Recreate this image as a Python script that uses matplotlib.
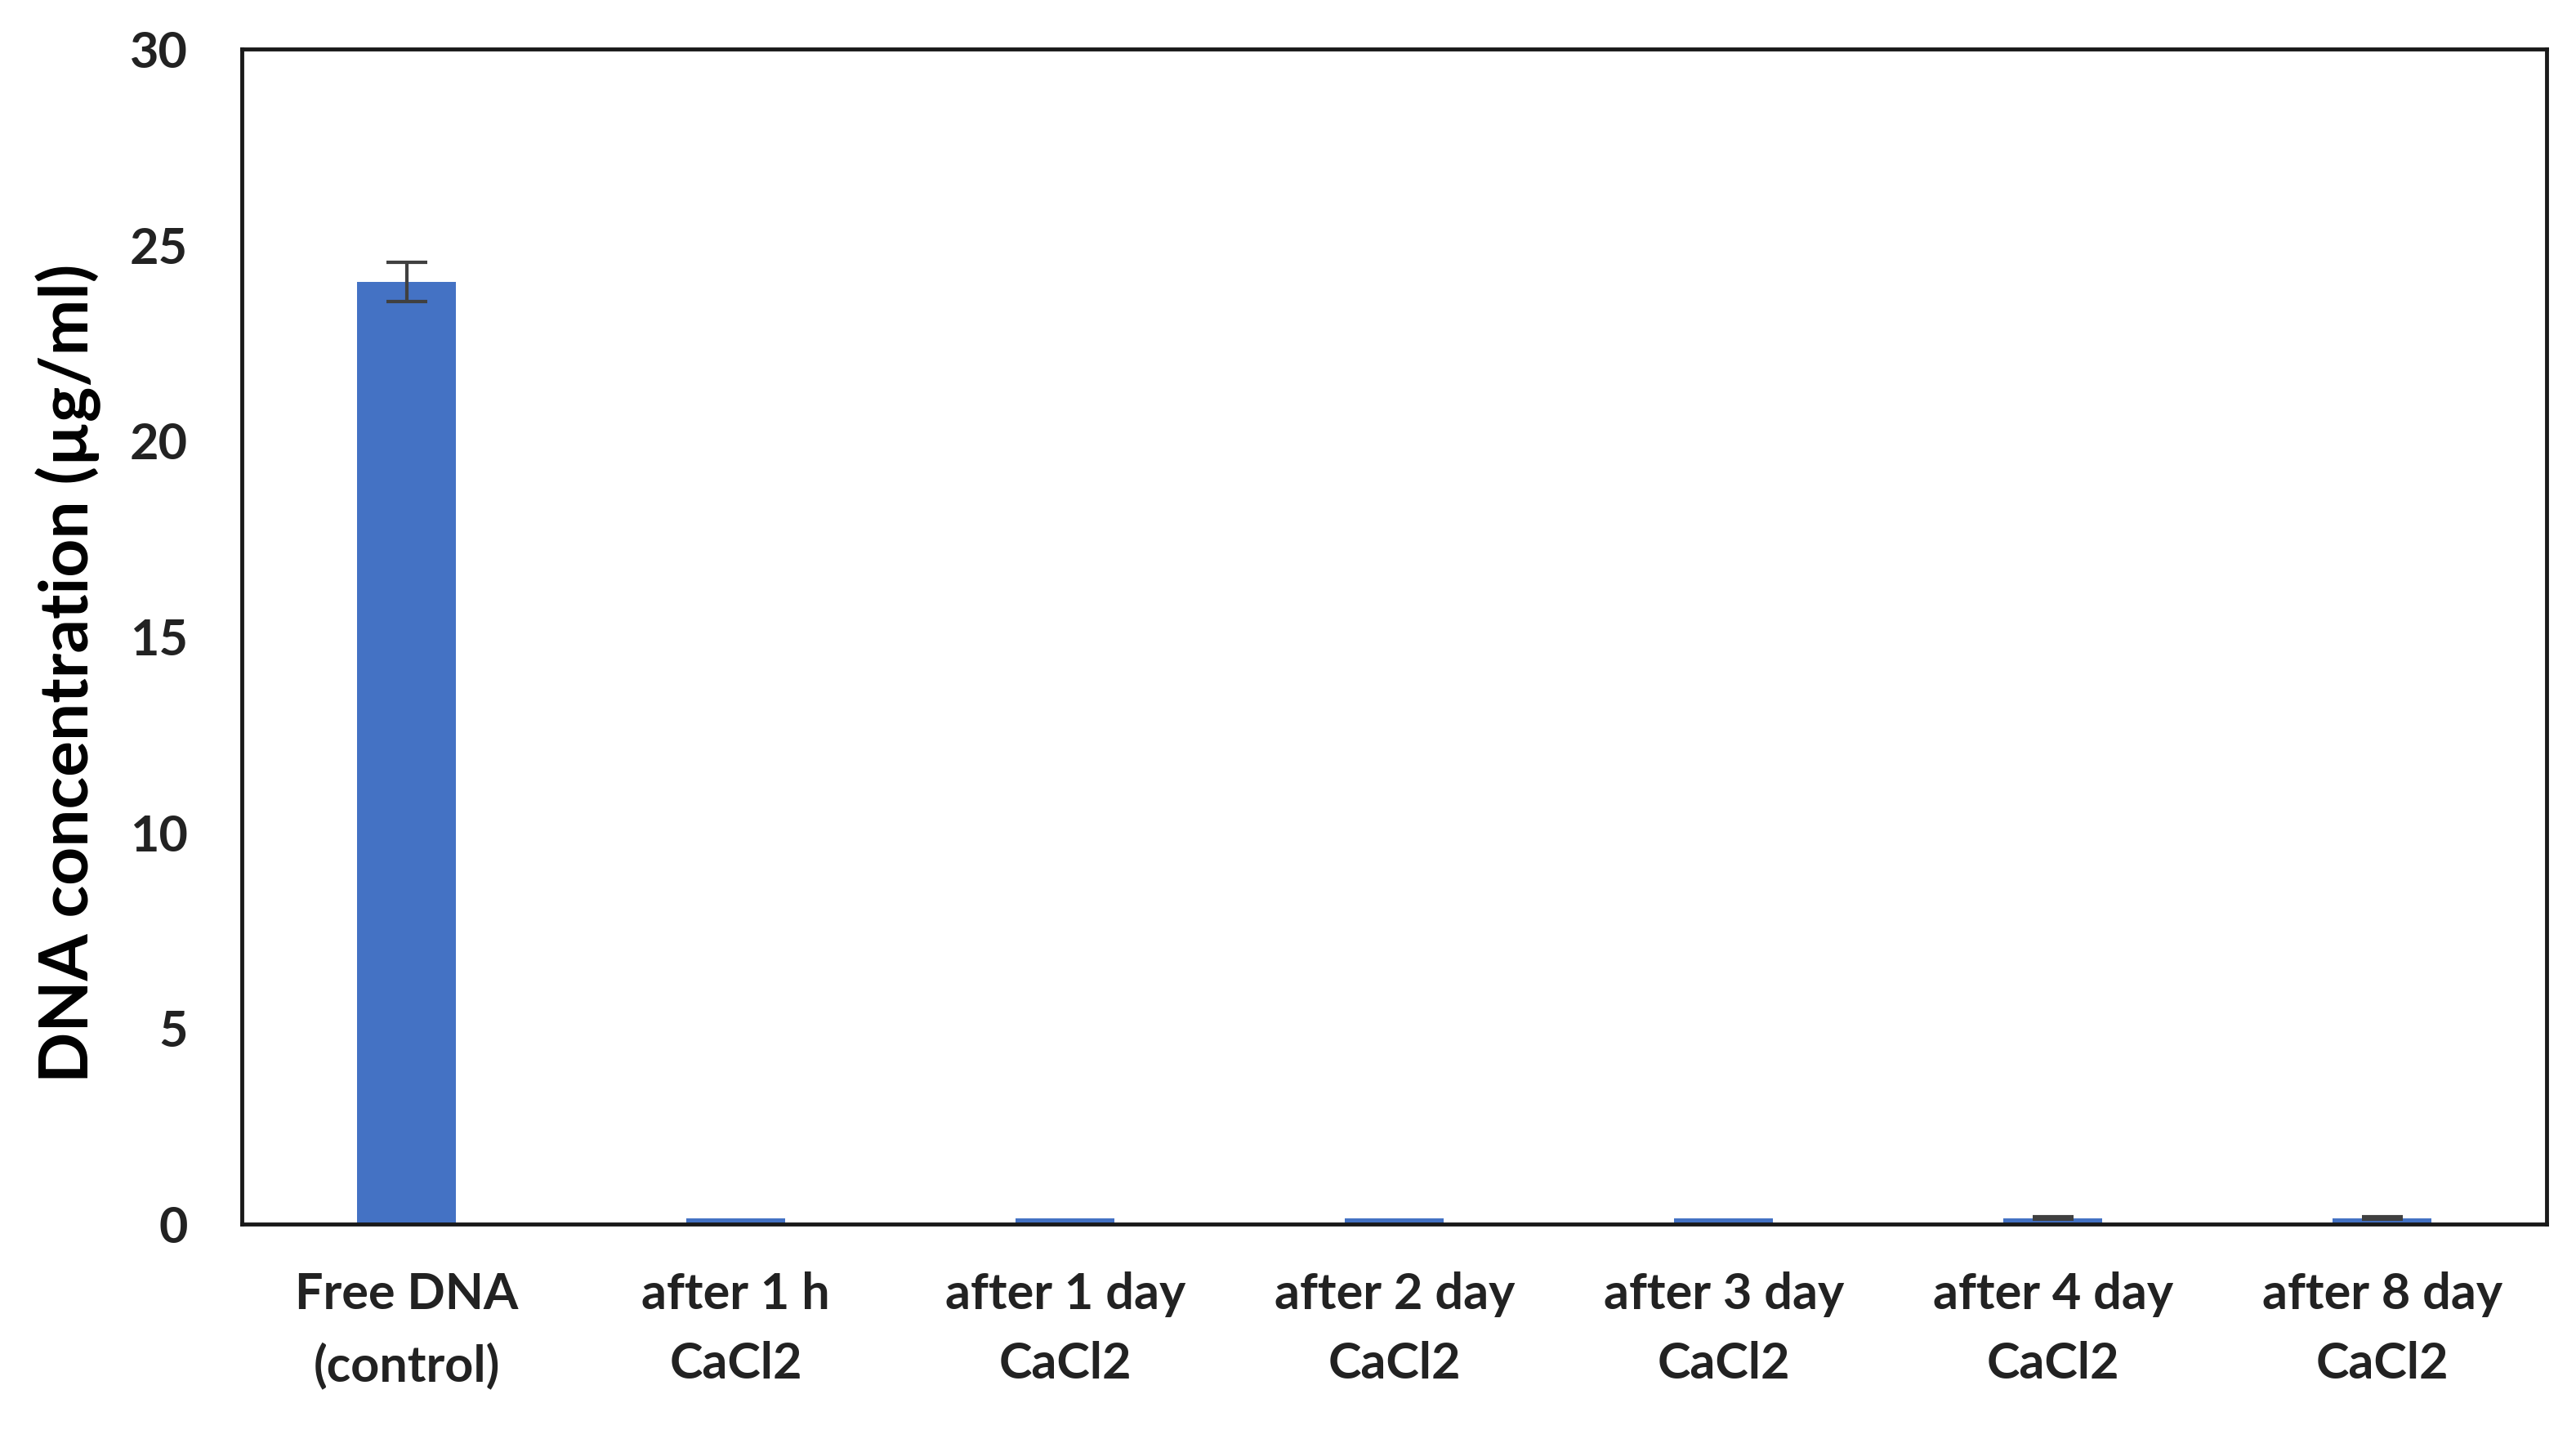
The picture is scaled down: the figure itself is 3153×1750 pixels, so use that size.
import matplotlib
matplotlib.use("Agg")
from matplotlib import pyplot as plt

categories = ["Free DNA\n(control)", "after 1 h\nCaCl2", "after 1 day\nCaCl2", "after 2 day\nCaCl2",
              "after 3 day\nCaCl2", "after 4 day\nCaCl2", "after 8 day\nCaCl2"]
values = [24.05, 0.15, 0.15, 0.15, 0.15, 0.15, 0.15]
errors = [0.5, 0.0, 0.0, 0.0, 0.0, 0.03, 0.03]

plt.rcParams['font.family'] = ['Lato', 'DejaVu Sans']

fig = plt.figure(figsize=(31.53, 17.5), dpi=100)
ax = fig.add_axes([0.094, 0.144, 0.8946, 0.8216])

x = list(range(len(categories)))
ax.bar(x, values, width=0.3, color='#4472C4', zorder=2)
# error bars only where there is an error
ex = [i for i in x if errors[i] > 0]
ax.errorbar(ex, [values[i] for i in ex], yerr=[errors[i] for i in ex], fmt='none',
            ecolor='#404040', elinewidth=3, capsize=18, capthick=3, zorder=3)

ax.set_xlim(-0.5, 6.5)
ax.set_ylim(0, 30)
ax.set_yticks([0, 5, 10, 15, 20, 25, 30])
ax.set_xticks(x)
ax.set_xticklabels(categories, fontsize=44, fontweight='bold', color='#222222', linespacing=1.62)
ax.tick_params(axis='y', length=0, pad=48, labelsize=44, labelcolor='#222222')
ax.tick_params(axis='x', length=0, pad=42)
for lbl in ax.get_yticklabels():
    lbl.set_fontweight('bold')

for s in ax.spines.values():
    s.set_linewidth(3.5)
    s.set_color('#1a1a1a')

ax.set_ylabel('DNA concentration (µg/ml)', fontsize=59, fontweight='bold')
ax.yaxis.set_label_coords(-0.061, 0.469)

fig.savefig('out.png', dpi=100)
